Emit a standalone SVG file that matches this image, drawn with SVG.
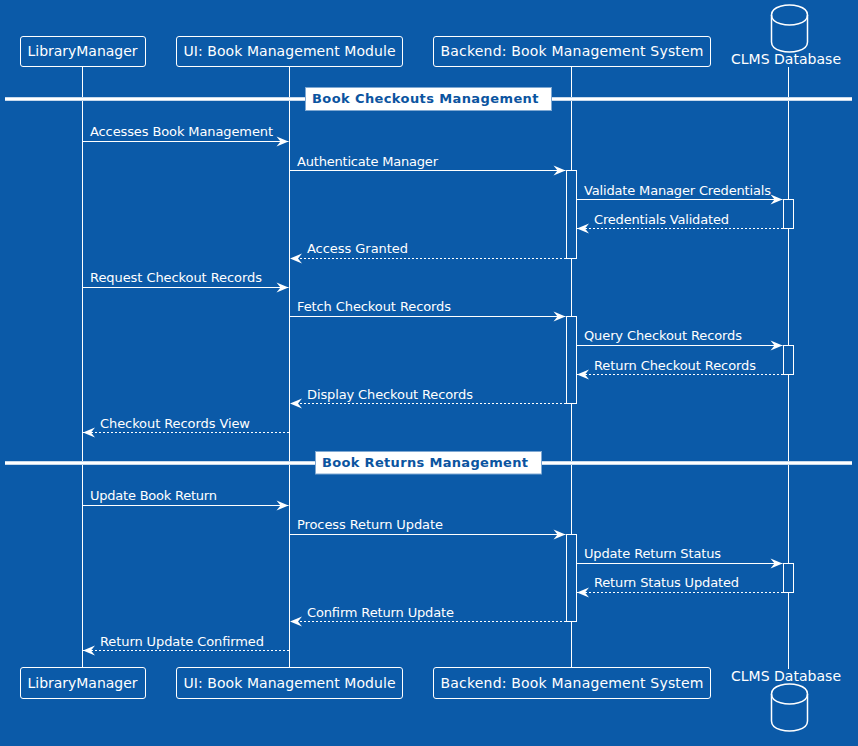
<svg xmlns="http://www.w3.org/2000/svg" width="858" height="746" viewBox="0 0 858 746">
<style>
text{font-family:"DejaVu Sans",sans-serif;fill:#fff}
.p{font-size:14px}
.m{font-size:13px}
.d{font-size:13px;font-weight:700;fill:#0b54a0}
.box{fill:#0b5aa8;stroke:#fff;stroke-width:1}
.life{stroke:#fff;stroke-width:1;fill:none}
.act{fill:#0b5aa8;stroke:#fff;stroke-width:1}
.msg{stroke:#fff;stroke-width:1;fill:none;marker-end:url(#a)}
.ret{stroke:#fff;stroke-width:1;fill:none;stroke-dasharray:2 2;marker-end:url(#a)}
.db{fill:none;stroke:#fff;stroke-width:1.5}
.dive{stroke:#b5cde6;stroke-width:4}
.div{stroke:#fff;stroke-width:2.500}
.divb{fill:#fff;stroke:#7fa8d2;stroke-width:1}
</style>
<defs>
<marker id="a" markerUnits="userSpaceOnUse" markerWidth="14" markerHeight="12" refX="12.500" refY="5.500" orient="auto"><polygon points="0.500,0.500 12.500,5.500 0.500,10.500 4.500,5.500" fill="#fff"/></marker>
</defs>
<rect width="858" height="746" fill="#0b5aa8"/>
<g id="connectors">
<line class="life" x1="82.5" y1="66" x2="82.5" y2="668"/>
<line class="life" x1="289.5" y1="66" x2="289.5" y2="668"/>
<line class="life" x1="571.5" y1="66" x2="571.5" y2="668"/>
<line class="life" x1="788.5" y1="67" x2="788.5" y2="669"/>
<g id="activations">
<rect class="act" x="566.5" y="170.5" width="10" height="88"/>
<rect class="act" x="783.5" y="199.5" width="10" height="29"/>
<rect class="act" x="566.5" y="316.5" width="10" height="87"/>
<rect class="act" x="783.5" y="345.5" width="10" height="29"/>
<rect class="act" x="566.5" y="534.5" width="10" height="87"/>
<rect class="act" x="783.5" y="563.5" width="10" height="29"/>
</g>
<line class="msg" x1="83" y1="141.500" x2="288.500" y2="141.500"/>
<line class="msg" x1="290" y1="170.500" x2="565.500" y2="170.500"/>
<line class="msg" x1="577" y1="199.500" x2="782.500" y2="199.500"/>
<line class="ret" x1="783" y1="228.500" x2="577" y2="228.500"/>
<line class="ret" x1="566" y1="258.500" x2="290" y2="258.500"/>
<line class="msg" x1="83" y1="287.500" x2="288.500" y2="287.500"/>
<line class="msg" x1="290" y1="316.500" x2="565.500" y2="316.500"/>
<line class="msg" x1="577" y1="345.500" x2="782.500" y2="345.500"/>
<line class="ret" x1="783" y1="374.500" x2="577" y2="374.500"/>
<line class="ret" x1="566" y1="403.500" x2="290" y2="403.500"/>
<line class="ret" x1="289" y1="432.500" x2="83" y2="432.500"/>
<line class="msg" x1="83" y1="505.500" x2="288.500" y2="505.500"/>
<line class="msg" x1="290" y1="534.500" x2="565.500" y2="534.500"/>
<line class="msg" x1="577" y1="563.500" x2="782.500" y2="563.500"/>
<line class="ret" x1="783" y1="592.500" x2="577" y2="592.500"/>
<line class="ret" x1="566" y1="621.500" x2="290" y2="621.500"/>
<line class="ret" x1="289" y1="650.500" x2="83" y2="650.500"/>
</g>
<g id="labels">
<text class="m" x="90" y="136" textLength="183">Accesses Book Management</text>
<text class="m" x="297" y="166" textLength="141">Authenticate Manager</text>
<text class="m" x="584" y="195" textLength="187">Validate Manager Credentials</text>
<text class="m" x="594" y="224" textLength="135">Credentials Validated</text>
<text class="m" x="307" y="253" textLength="101">Access Granted</text>
<text class="m" x="90" y="282" textLength="172">Request Checkout Records</text>
<text class="m" x="297" y="311" textLength="154">Fetch Checkout Records</text>
<text class="m" x="584" y="340" textLength="158">Query Checkout Records</text>
<text class="m" x="594" y="370" textLength="162">Return Checkout Records</text>
<text class="m" x="307" y="399" textLength="166">Display Checkout Records</text>
<text class="m" x="100" y="428" textLength="150">Checkout Records View</text>
<text class="m" x="90" y="500" textLength="127">Update Book Return</text>
<text class="m" x="297" y="529" textLength="146">Process Return Update</text>
<text class="m" x="584" y="558" textLength="137">Update Return Status</text>
<text class="m" x="594" y="587" textLength="145">Return Status Updated</text>
<text class="m" x="307" y="617" textLength="147">Confirm Return Update</text>
<text class="m" x="100" y="646" textLength="164">Return Update Confirmed</text>
</g>
<g id="divider-checkouts">
<line class="dive" x1="5" y1="99" x2="852" y2="99"/>
<line class="div" x1="5" y1="99" x2="852" y2="99"/>
<rect class="divb" x="305.500" y="87.500" width="246" height="23"/>
<text class="d" x="312" y="103" textLength="226.500">Book Checkouts Management</text>
</g>
<g id="divider-returns">
<line class="dive" x1="5" y1="463" x2="852" y2="463"/>
<line class="div" x1="5" y1="463" x2="852" y2="463"/>
<rect class="divb" x="315.500" y="451.500" width="226" height="22.500"/>
<text class="d" x="322" y="467" textLength="206">Book Returns Management</text>
</g>
<g id="p1-top"><rect class="box" x="20.500" y="36.500" width="125" height="30" rx="2.500"/><text class="p" x="27.500" y="56" textLength="110">LibraryManager</text></g>
<g id="p2-top"><rect class="box" x="176.500" y="36.500" width="226" height="30" rx="2.500"/><text class="p" x="183.500" y="56" textLength="212">UI: Book Management Module</text></g>
<g id="p3-top"><rect class="box" x="433.500" y="36.500" width="277" height="30" rx="2.500"/><text class="p" x="440.500" y="56" textLength="263">Backend: Book Management System</text></g>
<g id="p4-top">
<path class="db" d="M771.500 15C771.500 5 789.500 5 789.500 5C789.500 5 807.500 5 807.500 15V42C807.500 52 789.500 52 789.500 52C789.500 52 771.500 52 771.500 42Z"/>
<path class="db" d="M771.500 15C771.500 25 789.500 25 789.500 25C789.500 25 807.500 25 807.500 15"/>
<text class="p" x="731" y="64" textLength="110">CLMS Database</text>
</g>
<g id="p1-bottom"><rect class="box" x="20.500" y="667.500" width="125" height="31" rx="2.500"/><text class="p" x="27.500" y="688" textLength="110">LibraryManager</text></g>
<g id="p2-bottom"><rect class="box" x="176.500" y="667.500" width="226" height="31" rx="2.500"/><text class="p" x="183.500" y="688" textLength="212">UI: Book Management Module</text></g>
<g id="p3-bottom"><rect class="box" x="433.500" y="667.500" width="277" height="31" rx="2.500"/><text class="p" x="440.500" y="688" textLength="263">Backend: Book Management System</text></g>
<g id="p4-bottom">
<text class="p" x="731" y="681" textLength="110">CLMS Database</text>
<path class="db" d="M771.500 694C771.500 684 789.500 684 789.500 684C789.500 684 807.500 684 807.500 694V721C807.500 731 789.500 731 789.500 731C789.500 731 771.500 731 771.500 721Z"/>
<path class="db" d="M771.500 694C771.500 704 789.500 704 789.500 704C789.500 704 807.500 704 807.500 694"/>
</g>
</svg>
